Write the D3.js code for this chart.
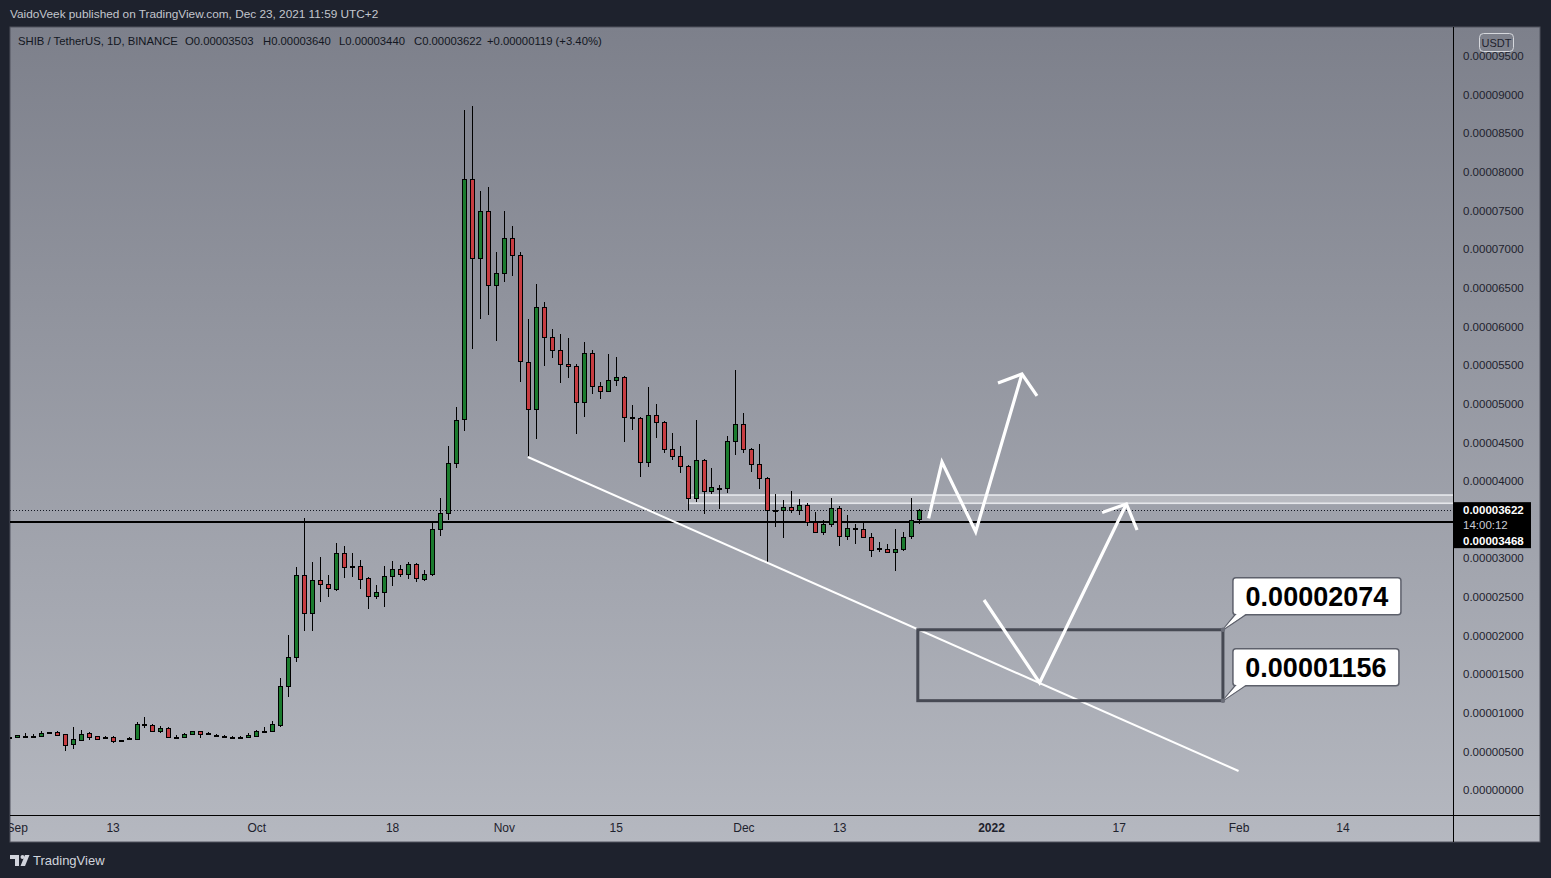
<!DOCTYPE html>
<html><head><meta charset="utf-8">
<script src="https://cdn.jsdelivr.net/npm/d3@7"></script>
<style>
html,body{margin:0;padding:0;background:#1e222d;overflow:hidden}
svg{display:block}
text{font-family:"Liberation Sans",Arial,sans-serif}
</style></head><body>
<script>
// ---------------- DATA ----------------
const UNIT = 1e-8;               // candle values are in units of 0.00000001 USDT
const firstDay = "2021-08-31";
const opens = [690,682,700,697,695,745,751,725,592,651,734,699,680,690,645,668,660,848,837,768,799,688,682,721,760,736,718,705,692,688,692,
703,766,768,845,1346,1722,2779,2287,2714,2663,2598,3064,2890,2896,2740,2515,2559,2766,2857,2792,2921,2735,2792,3374,3589,4233,4798,7905,6882,7491,6533,
6688,7141,6921,5536,4928,6248,5860,5691,5510,5484,5018,5653,5226,5161,5303,5342,4824,4811,4242,4850,4759,4410,4319,4190,3776,4268,3866,3915,3905,4517,
4734,4410,4216,4035,3630,3620,3667,3620,3685,3465,3336,3439,3646,3284,3385,3374,3271,3118,3123,3077,3116,3288,3503];
const highs = [705,716,734,725,764,752,760,730,819,777,755,705,699,695,652,682,876,945,854,828,810,716,735,770,765,745,722,710,697,697,738,
775,811,889,1450,2006,2890,3517,2951,3012,2783,3193,3158,3064,2973,2757,2654,2899,2964,2912,2951,2935,2844,3460,3780,4453,4961,8802,8854,7753,7805,6960,
7495,7300,6960,6093,6550,6317,5967,5899,5847,5514,5795,5691,5277,5644,5601,5355,4980,4830,5213,4992,4770,4617,4449,4200,4785,4280,4164,3944,4578,5436,
4876,4423,4479,4055,3828,3754,3866,3767,3719,3602,3491,3780,3676,3556,3447,3465,3323,3206,3184,3378,3343,3784,3640];
const lows = [675,669,690,690,690,740,705,509,531,647,647,660,664,612,640,662,647,806,755,742,682,664,675,715,677,728,682,697,684,684,688,
700,742,760,815,1204,1657,2062,2062,2437,2502,2580,2740,2761,2606,2339,2472,2373,2644,2753,2727,2696,2709,2766,3292,3495,4168,4651,5704,6101,6152,5816,
6580,6657,5285,4314,4547,5492,5588,5272,5337,4604,4832,5130,5057,5161,5233,4508,4664,4055,4185,4560,4358,4272,4107,3607,3732,3569,3828,3633,3838,4330,
4358,4110,3900,2955,3408,3266,3582,3564,3421,3327,3297,3408,3162,3240,3188,3265,3020,3077,3064,2831,3094,3253,3440];
const closes = [688,708,705,700,738,749,708,586,660,725,690,664,684,638,648,672,854,852,768,799,690,692,725,760,729,733,714,701,688,692,706,
764,770,854,1346,1722,2779,2287,2714,2663,2611,3064,2890,2896,2735,2515,2559,2766,2857,2792,2921,2740,2792,3374,3589,4233,4789,7905,6882,7491,6533,6688,
7141,6921,5549,4928,6248,5860,5691,5510,5484,5018,5653,5226,5161,5303,5342,4824,4815,4242,4850,4759,4410,4319,4190,3776,4268,3866,3918,3910,4517,4734,
4410,4216,4035,3628,3620,3667,3620,3693,3465,3336,3439,3646,3284,3387,3372,3271,3103,3128,3077,3116,3271,3491,3622];

// visible price-axis ticks (0.00003500 is hidden under the price label in the reference)
const yTickValues = [0,0.000005,0.00001,0.000015,0.00002,0.000025,0.00003,0.00004,0.000045,0.00005,0.000055,0.00006,0.000065,0.00007,0.000075,0.00008,0.000085,0.00009,0.000095];
const xTickDates  = ["2021-09-01","2021-09-13","2021-10-01","2021-10-18","2021-11-01","2021-11-15","2021-12-01","2021-12-13","2022-01-01","2022-01-17","2022-02-01","2022-02-14"];
const xTickLabels = ["Sep","13","Oct","18","Nov","15","Dec","13","2022","17","Feb","14"];
const xTickBold   = [false,false,false,false,false,false,false,false,true,false,false,false];

const headerText = "VaidoVeek published on TradingView.com, Dec 23, 2021 11:59 UTC+2";
const legendParts = ["SHIB / TetherUS, 1D, BINANCE","O0.00003503","H0.00003640","L0.00003440","C0.00003622","+0.00000119 (+3.40%)"];
const lastPrice = 0.00003622, linePrice = 0.00003468, countdown = "14:00:12";

// drawings (date, price)
const trendLine = [["2021-11-04T00:00Z",0.0000431],["2022-02-01T00:00Z",0.00000246]];
const band = {from:"2021-11-24T00:00Z", low:0.00003711, high:0.00003818};
const zone = {from:"2021-12-22T20:00Z", to:"2022-01-30T01:00Z", low:0.00001156, high:0.00002074};
const zoneLabels = ["0.00002074","0.00001156"];
const arrow1 = [["2021-12-24T04:30Z",0.00003517],["2021-12-25T20:40Z",0.00004245],["2021-12-30T02:00Z",0.00003343],["2022-01-04T21:00Z",0.00005384]];
const arrow1Head = [["2022-01-01T21:00Z",0.00005268],["2022-01-04T21:00Z",0.00005384],["2022-01-06T18:15Z",0.00005100]];
const arrow2 = [["2021-12-31T03:00Z",0.00002459],["2022-01-07T02:00Z",0.00001389],["2022-01-17T23:00Z",0.00003702]];
const arrow2Head = [["2022-01-14T22:00Z",0.00003592],["2022-01-17T23:00Z",0.00003702],["2022-01-19T07:00Z",0.00003365]];

// ---------------- LAYOUT ----------------
const W = 1551, H = 878;
const panel = {l:10, t:27, r:1540, b:842};
const plot = {l:10, t:27, r:1453, b:815};

const svg = d3.select("body").append("svg").attr("width",W).attr("height",H);
const defs = svg.append("defs");
const grad = defs.append("linearGradient").attr("id","bg").attr("x1",0).attr("y1",0).attr("x2",0).attr("y2",1);
grad.append("stop").attr("offset","0%").attr("stop-color","#7d808b");
grad.append("stop").attr("offset","100%").attr("stop-color","#b5b8c0");
defs.append("clipPath").attr("id","plotClip").append("rect")
  .attr("x",plot.l).attr("y",plot.t).attr("width",plot.r-plot.l).attr("height",plot.b-plot.t);
defs.append("clipPath").attr("id","panelClip").append("rect")
  .attr("x",panel.l).attr("y",panel.t).attr("width",panel.r-panel.l).attr("height",panel.b-panel.t);

svg.append("rect").attr("width",W).attr("height",H).attr("fill","#1e222d");
svg.append("rect").attr("x",panel.l).attr("y",panel.t).attr("width",panel.r-panel.l).attr("height",panel.b-panel.t)
  .attr("fill","url(#bg)").attr("stroke","#50535e").attr("stroke-width",1);

const x = d3.scaleUtc().domain([new Date("2021-10-01T00:00Z"), new Date("2022-01-01T00:00Z")]).range([256.3, 991]);
const y = d3.scaleLinear().domain([0, 0.000095]).range([790, 56]);
const px = v => Math.round(v) + 0.5;

// header
svg.append("text").attr("x",10).attr("y",18).attr("font-size",11.8).attr("fill","#c3c6ce").text(headerText);
const legendX = [18,185,263,339,414,487];
svg.append("g").selectAll("text").data(legendParts).join("text")
  .attr("x",(d,i)=>legendX[i]).attr("y",45).attr("font-size",11.3).attr("fill","#131722").text(d=>d);

const g = svg.append("g").attr("clip-path","url(#plotClip)");

// band
g.append("rect").attr("x",px(x(new Date(band.from)))).attr("y",y(band.high))
  .attr("width",plot.r - x(new Date(band.from))).attr("height",y(band.low)-y(band.high))
  .attr("fill","rgba(255,255,255,0.28)").attr("stroke","rgba(240,241,244,0.85)").attr("stroke-width",1.6);

// horizontal price lines
g.append("line").attr("x1",plot.l).attr("x2",plot.r).attr("y1",px(y(lastPrice))).attr("y2",px(y(lastPrice)))
  .attr("stroke","#131722").attr("stroke-width",1).attr("stroke-dasharray","1,2");
g.append("line").attr("x1",plot.l).attr("x2",plot.r).attr("y1",Math.round(y(linePrice))).attr("y2",Math.round(y(linePrice)))
  .attr("stroke","#000").attr("stroke-width",2);

// candles
const candles = opens.map((o,i)=>({date:d3.utcDay.offset(new Date(firstDay+"T00:00Z"),i), o:o*UNIT, h:highs[i]*UNIT, l:lows[i]*UNIT, c:closes[i]*UNIT}));
const cg = g.append("g");
cg.selectAll("line").data(candles).join("line")
  .attr("x1",d=>px(x(d.date))).attr("x2",d=>px(x(d.date)))
  .attr("y1",d=>Math.round(y(d.h))).attr("y2",d=>Math.round(y(d.l)))
  .attr("stroke","#000").attr("stroke-width",1);
cg.selectAll("rect").data(candles).join("rect")
  .attr("x",d=>px(x(d.date))-2).attr("width",4)
  .attr("y",d=>px(y(Math.max(d.o,d.c))))
  .attr("height",d=>Math.max(1, Math.round(y(Math.min(d.o,d.c))) - Math.round(y(Math.max(d.o,d.c)))))
  .attr("fill",d=>d.c>=d.o?"#1b7b2e":"#c73d42").attr("stroke","#000").attr("stroke-width",1);

// drawings
const line = d3.line().x(d=>x(new Date(d[0]))).y(d=>y(d[1]));
g.append("path").attr("d",line(trendLine)).attr("fill","none").attr("stroke","#fff").attr("stroke-width",2);
g.append("rect").attr("x",x(new Date(zone.from))).attr("y",y(zone.high))
  .attr("width",x(new Date(zone.to))-x(new Date(zone.from))).attr("height",y(zone.low)-y(zone.high))
  .attr("fill","none").attr("stroke","#464953").attr("stroke-width",3);
[arrow1,arrow1Head,arrow2,arrow2Head].forEach(a=>{
  g.append("path").attr("d",line(a)).attr("fill","none").attr("stroke","#fff").attr("stroke-width",3.2)
   .attr("stroke-linejoin","miter");
});

// zone callouts
const anchors = [[zone.to, zone.high],[zone.to, zone.low]];
anchors.forEach((a,i)=>{
  const ax = x(new Date(a[0])), ay = y(a[1]);
  const bx = ax + 10, by = ay - 15 - 37, bw = i===0?168:166, bh = 37;
  const cgp = g.append("g");
  cgp.append("path").attr("d",`M${bx+3},${by+bh-1} L${ax},${ay} L${bx+14},${by+bh-1}`)
    .attr("fill","#fff").attr("stroke","#5d606b").attr("stroke-width",1.5);
  cgp.append("rect").attr("x",bx).attr("y",by).attr("width",bw).attr("height",bh).attr("rx",3)
    .attr("fill","#fff").attr("stroke","#5d606b").attr("stroke-width",1.5);
  cgp.append("path").attr("d",`M${bx+4},${by+bh-1} L${ax+1},${ay-1} L${bx+13},${by+bh-1}Z`).attr("fill","#fff");
  cgp.append("text").attr("x",bx+bw/2).attr("y",by+bh/2+9.5).attr("text-anchor","middle")
    .attr("font-size",27).attr("font-weight","bold").attr("fill","#000").text(zoneLabels[i]);
  cgp.append("circle").attr("cx",ax).attr("cy",ay).attr("r",2.2).attr("fill","#6b6e79");
});

// axes lines
svg.append("line").attr("x1",plot.r+0.5).attr("x2",plot.r+0.5).attr("y1",panel.t).attr("y2",panel.b).attr("stroke","#000");
svg.append("line").attr("x1",panel.l).attr("x2",panel.r).attr("y1",plot.b+0.5).attr("y2",plot.b+0.5).attr("stroke","#000");

// y axis
const yAxis = svg.append("g").attr("transform",`translate(${plot.r+10},0)`)
  .call(d3.axisRight(y).tickValues(yTickValues).tickFormat(d3.format(".8f")).tickSize(0).tickPadding(0));
yAxis.select(".domain").remove();
yAxis.selectAll("text").attr("font-size",11.5).attr("fill","#1e222d").attr("font-family","Liberation Sans, Arial, sans-serif");

// x axis
const xOuter = svg.append("g").attr("clip-path","url(#panelClip)");
const xAxis = xOuter.append("g").attr("transform",`translate(0,${plot.b})`)
  .call(d3.axisBottom(x).tickValues(xTickDates.map(d=>new Date(d+"T00:00Z"))).tickFormat((d,i)=>xTickLabels[i]).tickSize(0).tickPadding(8));
xAxis.select(".domain").remove();
xAxis.selectAll("text").attr("font-size",12).attr("fill","#1e222d").attr("font-family","Liberation Sans, Arial, sans-serif")
  .attr("font-weight",(d,i)=>xTickBold[i]?"bold":"normal");

// USDT badge
svg.append("rect").attr("x",1479.5).attr("y",33.5).attr("width",34).attr("height",18).attr("rx",4)
  .attr("fill","none").attr("stroke","#d6d8dd").attr("stroke-width",1);
svg.append("text").attr("x",1496.5).attr("y",46.5).attr("text-anchor","middle").attr("font-size",11).attr("fill","#1e222d").text("USDT");

// price label box
const ly = y(lastPrice);
svg.append("rect").attr("x",plot.r+1).attr("y",ly-8).attr("width",77).attr("height",46).attr("fill","#000");
svg.append("text").attr("x",plot.r+10).attr("y",ly+4).attr("font-size",11.5).attr("font-weight","bold").attr("fill","#fff").text(d3.format(".8f")(lastPrice));
svg.append("text").attr("x",plot.r+10).attr("y",ly+19).attr("font-size",11.5).attr("fill","#c9ccd3").text(countdown);
svg.append("text").attr("x",plot.r+10).attr("y",ly+35).attr("font-size",11.5).attr("font-weight","bold").attr("fill","#fff").text(d3.format(".8f")(linePrice));

// TradingView logo
const logo = svg.append("g").attr("fill","#d1d4dc");
logo.append("path").attr("d","M10,855 H19 V866 H15 V859 H10 Z");
logo.append("circle").attr("cx",22.5).attr("cy",857).attr("r",2);
logo.append("path").attr("d","M25,855 H29.5 L25,866 H20.5 Z");
svg.append("text").attr("x",33).attr("y",865).attr("font-size",13).attr("fill","#d1d4dc").text("TradingView");
</script>
</body></html>
